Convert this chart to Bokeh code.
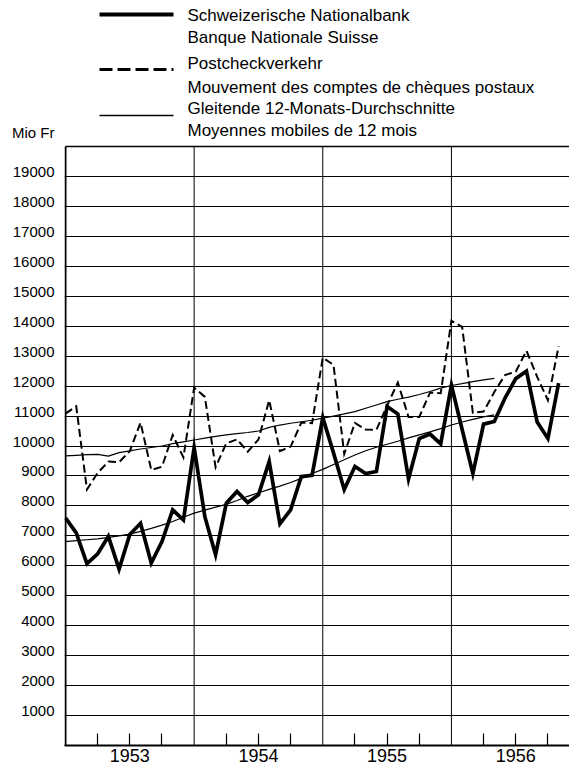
from bokeh.plotting import figure
from bokeh.models import Range1d, FixedTicker
from bokeh.core.properties import value
from bokeh.embed import file_html
from bokeh.resources import INLINE

# ---- data (Mio Fr), monthly, index 0 = Dec 1952 ... 46 = Oct 1956 ----
years = ["1953", "1954", "1955", "1956"]
snb = [7.60, 7.10, 6.07, 6.40, 6.98, 5.89, 7.05, 7.42, 6.09, 6.81, 7.87, 7.53,
       9.95, 7.64, 6.37, 8.09, 8.48, 8.11, 8.37, 9.48, 7.40, 7.87, 8.98, 9.02,
       10.95, 9.77, 8.55, 9.32, 9.08, 9.15, 11.32, 11.07, 8.90, 10.25, 10.40, 10.07,
       12.03, 10.55, 9.08, 10.73, 10.82, 11.60, 12.25, 12.50, 10.80, 10.25, 12.10]
post = [11.08, 11.33, 8.55, 9.10, 9.48, 9.46, 9.83, 10.78, 9.20, 9.31, 10.37, 9.62,
        11.95, 11.64, 9.29, 10.09, 10.22, 9.81, 10.22, 11.53, 9.83, 9.98, 10.78, 10.76,
        12.95, 12.71, 9.74, 10.77, 10.55, 10.54, 11.35, 12.12, 10.97, 10.97, 11.78, 11.76,
        14.18, 13.98, 11.11, 11.15, 11.80, 12.37, 12.48, 13.18, 12.31, 11.53, 13.33]
snb_ma = [6.81, 6.84, 6.87, 6.90, 6.95, 7.00, 7.06, 7.15, 7.25, 7.36, 7.48, 7.62,
          7.76, 7.86, 7.96, 8.05, 8.18, 8.32, 8.44, 8.55, 8.66, 8.78, 8.92, 9.08,
          9.22, 9.38, 9.54, 9.70, 9.84, 9.96, 10.06, 10.16, 10.27, 10.37, 10.47, 10.58,
          10.70, 10.80, 10.89, 10.97, 11.04]
post_ma = [9.67, 9.69, 9.71, 9.72, 9.66, 9.78, 9.84, 9.90, 9.95, 10.00, 10.08, 10.14,
           10.20, 10.26, 10.32, 10.37, 10.41, 10.45, 10.50, 10.62, 10.70, 10.76, 10.81, 10.86,
           10.93, 11.00, 11.07, 11.15, 11.26, 11.37, 11.48, 11.56, 11.63, 11.72, 11.82, 11.93,
           12.02, 12.08, 12.15, 12.21, 12.26]
y_ticks = list(range(1000, 20000, 1000))
y_top = 20000
legend_labels = ["Schweizerische Nationalbank", "Banque Nationale Suisse",
                 "Postcheckverkehr", "Mouvement des comptes de chèques postaux",
                 "Gleitende 12-Monats-Durchschnitte", "Moyennes mobiles de 12 mois"]
unit_label = "Mio Fr"

FONT = value("Liberation Sans")

# ---- layout constants (pixels) ----
W, H = 569, 764
X0 = 65            # pixel of month 0 (left axis)
Y0 = 745           # pixel of value 0 (bottom axis)
YT = 146           # pixel of value 20000 (top rule)
PXM = 10.72        # pixels per month
S = (Y0 - YT) / y_top   # pixels per Fr-million unit


def k(vals):
    return [v * 1000 for v in vals]


def px_x(px):      # pixel -> month coordinate
    return (px - X0) / PXM


def px_y(py):      # pixel -> value coordinate
    return (Y0 - py) / S


p = figure(width=W, height=H,
           x_range=Range1d(px_x(X0 - 1), px_x(W)), y_range=Range1d(0, px_y(0)),
           toolbar_location=None, output_backend="svg",
           min_border_left=X0 - 1, min_border_right=0, min_border_top=0, min_border_bottom=0,
           outline_line_color=None)
p.background_fill_color = "white"
p.border_fill_color = "white"

months = list(range(len(snb)))
months_ma = list(range(len(snb_ma)))

# frame: left rule, top rule, year rules
p.segment(x0=[0], y0=[0], x1=[0], y1=[y_top], line_color="black", line_width=2)
p.segment(x0=[0], y0=[y_top], x1=[px_x(W)], y1=[y_top], line_color="black", line_width=1.5)
p.segment(x0=[12, 24, 36], y0=[0] * 3, x1=[12, 24, 36], y1=[y_top] * 3,
          line_color="black", line_width=1)

# series
p.line(months, k(post), line_color="black", line_width=2, line_dash="8 4", line_join="miter")
p.line(months, k(snb), line_color="black", line_width=3.7, line_join="miter")
p.line(months_ma, k(post_ma), line_color="black", line_width=1.2)
p.line(months_ma, k(snb_ma), line_color="black", line_width=1.2)

# legend (above the chart area)
lx0, lx1 = px_x(99), px_x(173)
p.segment(x0=[lx0], y0=[px_y(14)], x1=[lx1], y1=[px_y(14)], line_color="black", line_width=4)
p.segment(x0=[lx0], y0=[px_y(69)], x1=[lx1], y1=[px_y(69)], line_color="black",
          line_width=3, line_dash="13 5")
p.segment(x0=[lx0], y0=[px_y(115)], x1=[lx1], y1=[px_y(115)], line_color="black",
          line_width=1.3)
p.text(x=[px_x(187)] * 6, y=[px_y(v) for v in (15, 37, 63, 87, 108, 130)],
       text=legend_labels, text_font=FONT, text_font_size="17px",
       text_baseline="middle", text_align="left", text_color="black")

# grids
p.ygrid.ticker = FixedTicker(ticks=y_ticks)
p.ygrid.grid_line_color = "black"
p.ygrid.grid_line_width = 1
p.xgrid.visible = False

# y axis (labels sit just above their grid line) + unit label
off = 5 / S
mio_y = px_y(132)
p.yaxis.ticker = FixedTicker(ticks=[t + off for t in y_ticks] + [mio_y])
ov = {t + off: str(t) for t in y_ticks}
ov[mio_y] = unit_label
p.yaxis.major_label_overrides = ov
p.yaxis.major_tick_in = 0
p.yaxis.major_tick_out = 0
p.yaxis.minor_tick_line_color = None
p.yaxis.major_label_standoff = 10
p.yaxis.major_label_text_font = "Liberation Sans"
p.yaxis.major_label_text_font_size = "15px"
p.yaxis.major_label_text_color = "black"
p.yaxis.axis_line_color = None

# x axis: quarter ticks, year label at mid-year
qt = [12 * i + q for i in range(4) for q in (3, 6, 9)]
p.xaxis.ticker = FixedTicker(ticks=qt)
p.xaxis.major_label_overrides = {t: (years[t // 12] if t % 12 == 6 else "") for t in qt}
p.xaxis.major_tick_in = 12
p.xaxis.major_tick_out = 0
p.xaxis.major_tick_line_width = 1.2
p.xaxis.major_tick_line_color = "black"
p.xaxis.minor_tick_line_color = None
p.xaxis.major_label_standoff = 3
p.xaxis.major_label_text_font = "Liberation Sans"
p.xaxis.major_label_text_font_size = "18px"
p.xaxis.major_label_text_color = "black"
p.xaxis.axis_line_width = 2
p.xaxis.axis_line_color = "black"

open("out.html", "w").write(file_html(p, INLINE))
